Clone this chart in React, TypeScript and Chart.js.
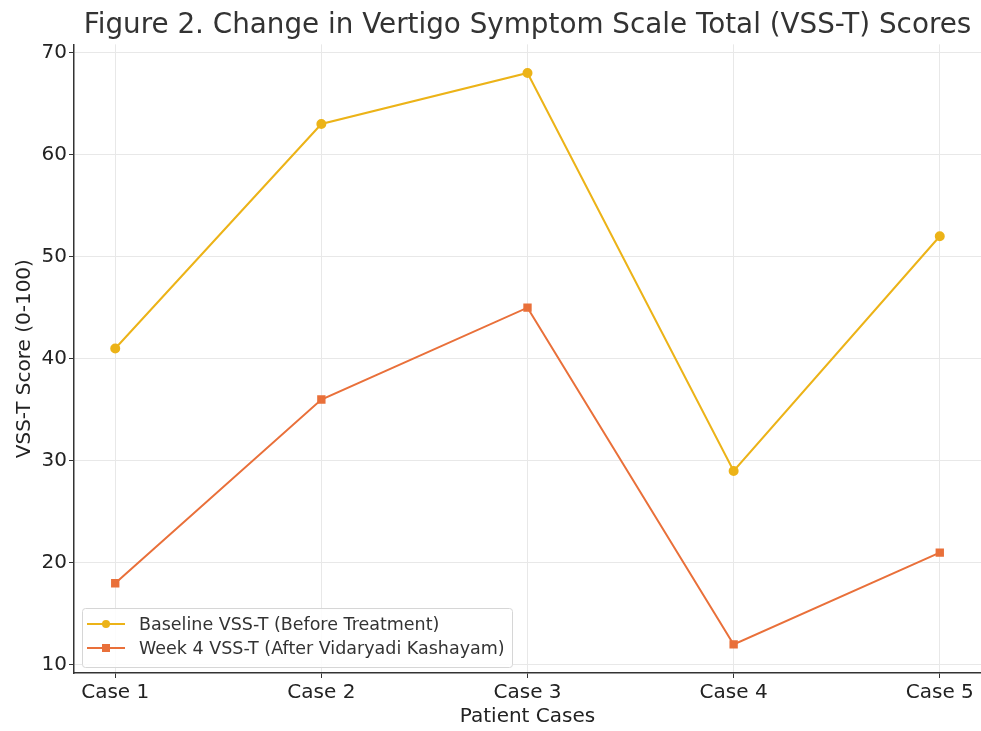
import React, { useEffect, useRef } from "react";
import { Chart, registerables } from "chart.js";

Chart.register(...registerables);

const categories = ["Case 1", "Case 2", "Case 3", "Case 4", "Case 5"];
const baselineScores = [41, 63, 68, 29, 52];
const week4Scores = [18, 36, 45, 12, 21];
const yTicks = [10, 20, 30, 40, 50, 60, 70];
const seriesLabels = [
  "Baseline VSS-T (Before Treatment)",
  "Week 4 VSS-T (After Vidaryadi Kashayam)",
];
const titleText = "Figure 2. Change in Vertigo Symptom Scale Total (VSS-T) Scores";

const FONT = "'DejaVu Sans', sans-serif";
const GOLD = "#ecb318";
const ORANGE = "#e9703a";

const legendPlugin = {
  id: "insideLegend",
  afterDraw(chart: any) {
    const ctx = chart.ctx;
    const x0 = 82, y0 = 608, w = 430, h = 59;
    ctx.save();
    ctx.fillStyle = "rgba(255,255,255,0.85)";
    ctx.strokeStyle = "#d6d6d6";
    ctx.lineWidth = 1;
    ctx.beginPath();
    ctx.roundRect(x0 + 0.5, y0 + 0.5, w, h, 3);
    ctx.fill();
    ctx.stroke();
    ctx.font = `17.5px ${FONT}`;
    ctx.textBaseline = "middle";
    chart.data.datasets.forEach((ds: any, i: number) => {
      const cy = y0 + 16 + i * 24;
      ctx.strokeStyle = ds.borderColor;
      ctx.lineWidth = 2;
      ctx.beginPath();
      ctx.moveTo(87, cy);
      ctx.lineTo(125, cy);
      ctx.stroke();
      ctx.fillStyle = ds.pointBackgroundColor;
      if (ds.pointStyle === "rect") {
        ctx.fillRect(102, cy - 4, 8, 8);
      } else {
        ctx.beginPath();
        ctx.arc(106, cy, 4, 0, Math.PI * 2);
        ctx.fill();
      }
      ctx.fillStyle = "#333";
      ctx.fillText(ds.label, 139, cy + 1);
    });
    ctx.restore();
  },
};

export default function App() {
  const ref = useRef<HTMLCanvasElement>(null);
  useEffect(() => {
    document.body.style.margin = "0";
    const canvas = ref.current!;
    const chart = new Chart(canvas, {
      type: "line",
      data: {
        datasets: [
          {
            label: seriesLabels[0],
            data: baselineScores.map((v, i) => ({ x: i, y: v })),
            borderColor: GOLD,
            backgroundColor: GOLD,
            pointBackgroundColor: GOLD,
            pointBorderColor: GOLD,
            pointStyle: "circle",
            pointRadius: 4,
            borderWidth: 2,
          },
          {
            label: seriesLabels[1],
            data: week4Scores.map((v, i) => ({ x: i, y: v })),
            borderColor: ORANGE,
            backgroundColor: ORANGE,
            pointBackgroundColor: ORANGE,
            pointBorderColor: ORANGE,
            pointStyle: "rect",
            pointRadius: 4.5,
            borderWidth: 2,
          },
        ],
      },
      options: {
        responsive: false,
        animation: false,
        devicePixelRatio: 1,
        layout: { autoPadding: false, padding: { left: 0, right: 0, top: 0, bottom: 0 } },
        plugins: {
          legend: { display: false },
          tooltip: { enabled: false },
          title: {
            display: true,
            text: titleText,
            fullSize: false,
            color: "#333",
            font: { family: FONT, size: 27.8, weight: "normal" },
            padding: { top: 9, bottom: 2 },
          },
        },
        scales: {
          x: {
            type: "linear",
            min: -0.2,
            max: 4.2,
            afterBuildTicks: (s: any) => {
              s.ticks = categories.map((_, i) => ({ value: i }));
            },
            afterFit: (s: any) => {
              s.height = 58;
              s.paddingLeft = 0;
              s.paddingRight = 0;
            },
            ticks: {
              color: "#222",
              font: { family: FONT, size: 20 },
              padding: 3,
              autoSkip: false,
              maxRotation: 0,
              callback: (v: any) => categories[Math.round(v)] ?? "",
            },
            grid: {
              color: "#e8e8e8",
              tickColor: "#333",
              tickLength: 5,
              lineWidth: 1,
            },
            border: { display: true, color: "#333", width: 1.5 },
            title: {
              display: true,
              text: "Patient Cases",
              color: "#222",
              font: { family: FONT, size: 20 },
              padding: { top: 0, bottom: 2 },
            },
          },
          y: {
            type: "linear",
            min: 9.2,
            max: 70.8,
            afterBuildTicks: (s: any) => {
              s.ticks = yTicks.map((v) => ({ value: v }));
            },
            afterFit: (s: any) => {
              s.width = 74;
              s.paddingTop = 0;
              s.paddingBottom = 0;
            },
            ticks: {
              color: "#222",
              font: { family: FONT, size: 20 },
              padding: 2,
            },
            grid: {
              color: "#e8e8e8",
              tickColor: "#333",
              tickLength: 5,
              lineWidth: 1,
            },
            border: { display: true, color: "#333", width: 1.5 },
            title: {
              display: true,
              text: "VSS-T Score (0-100)",
              color: "#222",
              font: { family: FONT, size: 20 },
              padding: { top: 13, bottom: 0 },
            },
          },
        },
      },
      plugins: [legendPlugin],
    });
    return () => chart.destroy();
  }, []);
  return (
    <div style={{ position: "absolute", left: 0, top: 0, width: 981, height: 731, background: "#fff" }}>
      <canvas ref={ref} width={981} height={731} style={{ width: 981, height: 731, display: "block" }} />
    </div>
  );
}
